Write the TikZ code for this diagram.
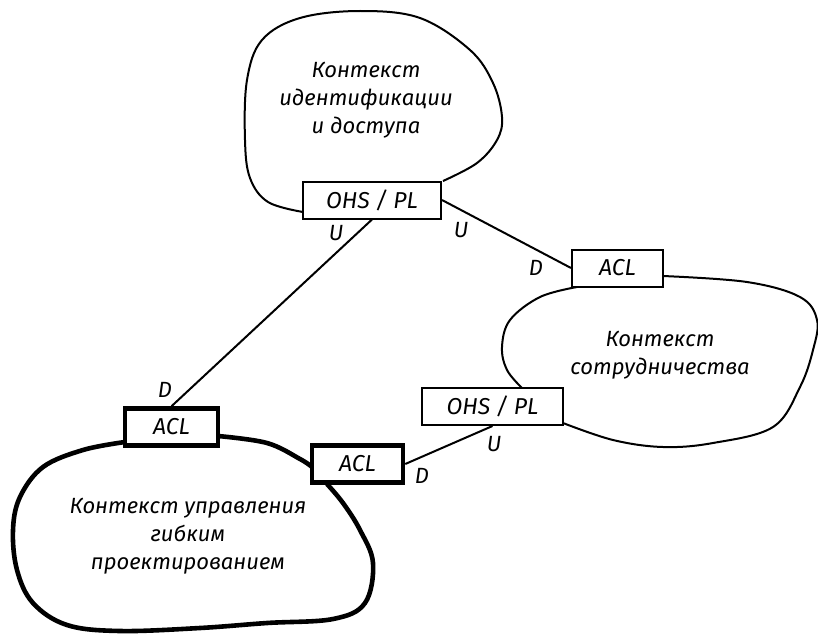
\documentclass[tikz,border=0pt]{standalone}
\usepackage{fontspec}
\setmainfont{Fira Sans}
\begin{document}
\begin{tikzpicture}[x=1pt,y=-1pt,
  box/.style={draw,line width=2pt,minimum height=37pt,inner sep=0pt,font=\fontsize{23}{26}\selectfont\itshape},
  thickbox/.style={box,line width=4.5pt},
  blob/.style={line width=2pt,line join=round},
  thickblob/.style={blob,line width=4.6pt},
  ctx/.style={align=center,font=\fontsize{22}{28}\selectfont\itshape},
  role/.style={font=\fontsize{22}{24}\selectfont\itshape}]
\useasboundingbox (0,0) rectangle (818,634);

% context maps
\node[box,minimum width=138pt] (ohsTop) at (372,200) {OHS / PL};
\node[box,minimum width=91pt] (aclRight) at (617.5,268) {ACL};
\node[box,minimum width=141pt] (ohsMid) at (492.5,406.5) {OHS / PL};
\node[thickbox,minimum width=93pt] (aclLeft) at (171.5,427) {ACL};
\node[thickbox,minimum width=91pt] (aclMid) at (357.5,464) {ACL};

% contexts
\node[ctx] (identity) at (366,100) {Контекст\\идентификации\\и доступа};
\node[ctx] (collab) at (660,355) {Контекст\\сотрудничества};
\node[ctx] (agile) at (188,536) {Контекст управления\\гибким\\проектированием};

\draw[blob] plot[smooth,tension=0.6] coordinates {(303,212) (268,202) (250,178) (245,140) (247,80) (262,40) (300,18) (360,11) (420,18) (470,50) (493,83) (502,117) (497,140) (477,163) (443,181)};
\draw[blob] plot[smooth,tension=0.6] coordinates {(663,276) (747,282) (800,297) (817,320) (813,350) (800,387) (773,427) (713,443) (663,447) (613,440) (563,423)};
\draw[blob] plot[smooth,tension=0.6] coordinates {(577,287) (540,297) (510,320) (502,347) (507,370) (522,388)};
\draw[thickblob] plot[smooth,tension=0.6] coordinates {(125,442) (83,450) (43,467) (20,497) (13,530) (17,570) (33,603) (67,625) (120,631) (200,628) (267,623) (333,619) (365,603) (373,563) (360,530) (343,503) (327,484)};
\draw[thickblob] plot[smooth,tension=0.6] coordinates {(218,436) (267,443) (300,459) (312,467)};

% relationships
\draw[blob] (ohsTop.south) -- (aclLeft.north);
\draw[blob] (ohsTop.east) -- (aclRight.west);
\draw[blob] (ohsMid.south) -- (aclMid.east);

\node[role] (u1) at (336,233) {U};
\node[role] (d1) at (165,390) {D};
\node[role] (u2) at (461,230) {U};
\node[role] (d2) at (536,268) {D};
\node[role] (u3) at (494,444) {U};
\node[role] (d3) at (422,476) {D};
\end{tikzpicture}
\end{document}
